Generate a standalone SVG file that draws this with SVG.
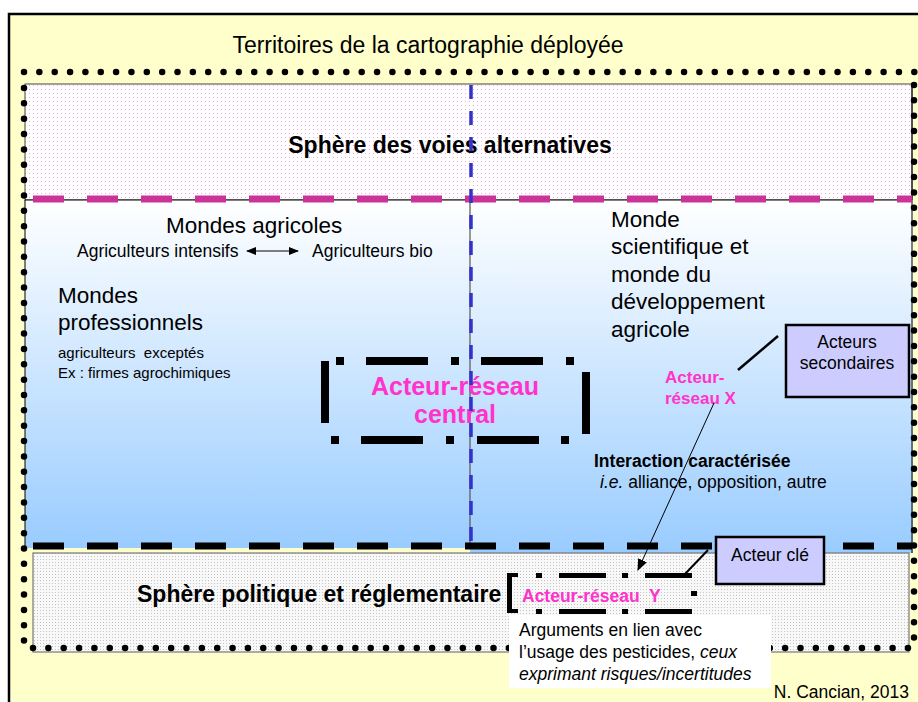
<svg xmlns="http://www.w3.org/2000/svg" width="918" height="702" viewBox="0 0 918 702">
<defs>
<style>
text{font-family:"Liberation Sans",Arial,sans-serif;fill:#000}
.t22{font-size:22.5px}
.b22{font-size:23px;font-weight:bold}
.t17{font-size:17.5px}
.t15{font-size:15px}
.pk{fill:#FF33CC;font-weight:bold}
.dots{fill:none;stroke:#000;stroke-width:6.5;stroke-linecap:round;stroke-dasharray:0 15.35}
.bk{fill:#000}
.box{fill:#CCCCFF;stroke:#000;stroke-width:2.5}
</style>
<pattern id="pinkdots" width="4" height="4" patternUnits="userSpaceOnUse">
<rect width="4" height="4" fill="#FFFFFF"/>
<rect x="1" y="1" width="1" height="1" fill="#F5A6EE"/>
</pattern>
<pattern id="graydots" width="3" height="3" patternUnits="userSpaceOnUse">
<rect width="3" height="3" fill="#F8F8F8"/>
<rect x="1" y="1" width="1" height="1" fill="#C4C4C4"/>
</pattern>
<linearGradient id="blue" x1="0" y1="0" x2="0" y2="1">
<stop offset="0" stop-color="#FFFFFF"/>
<stop offset="1" stop-color="#99CCFF"/>
</linearGradient>
<marker id="ah" viewBox="0 0 10 10" refX="9" refY="5" markerWidth="10" markerHeight="10" markerUnits="userSpaceOnUse" orient="auto-start-reverse">
<path d="M0,1 L10,5 L0,9 Z" fill="#000"/>
</marker>
<marker id="ah2" viewBox="0 0 10 10" refX="9" refY="5" markerWidth="12" markerHeight="12" markerUnits="userSpaceOnUse" orient="auto">
<path d="M0,1 L10,5 L0,9 Z" fill="#000"/>
</marker>
</defs>

<g id="frame">
<rect x="9" y="14" width="1000" height="800" fill="#FFFFCC" stroke="#000" stroke-width="2.5"/>
<text x="428" y="53" text-anchor="middle" font-size="23">Territoires de la cartographie déployée</text>
</g>

<g id="sphere-alternatives">
<rect x="25" y="84" width="887" height="116" fill="url(#pinkdots)" stroke="#444" stroke-width="1"/>
<text class="b22" x="450" y="153" text-anchor="middle">Sphère des voies alternatives</text>
</g>

<g id="mondes">
<rect x="25" y="200" width="887" height="348" fill="url(#blue)"/>
<rect x="470" y="200" width="443" height="353" fill="url(#blue)"/>
<line x1="25" y1="200" x2="25" y2="548" stroke="#000" stroke-width="1"/>
<line x1="25" y1="200" x2="912" y2="200" stroke="#000" stroke-width="1"/>
<line x1="912" y1="84" x2="912" y2="553" stroke="#000" stroke-width="1"/>
<line x1="470" y1="200" x2="470" y2="548" stroke="#555" stroke-width="1.2"/>
</g>

<g id="sphere-politique">
<rect x="33" y="553" width="876" height="99" fill="url(#graydots)" stroke="#777" stroke-width="1.2"/>
<text class="b22" x="137" y="602">Sphère politique et réglementaire</text>
</g>

<g id="dotted-borders">
<line class="dots" x1="24" y1="72" x2="918" y2="72"/>
<line class="dots" x1="24" y1="88" x2="24" y2="642"/>
<line class="dots" x1="33" y1="648" x2="909" y2="648"/>
<line class="dots" x1="914" y1="85" x2="914" y2="652"/>
</g>

<g id="dividers">
<line x1="33" y1="199" x2="912" y2="199" stroke="#CC3399" stroke-width="7" stroke-dasharray="31 23"/>
<line x1="33" y1="546" x2="912" y2="546" stroke="#000" stroke-width="7" stroke-dasharray="31 23"/>
</g>

<g id="monde-agricole">
<text class="t22" x="166" y="233">Mondes agricoles</text>
<text class="t17" x="77" y="257">Agriculteurs intensifs</text>
<text class="t17" x="312" y="257">Agriculteurs bio</text>
</g>

<g id="mondes-professionnels">
<text class="t22" x="58" y="303">Mondes</text>
<text class="t22" x="58" y="330">professionnels</text>
<text class="t15" x="58" y="358" xml:space="preserve">agriculteurs  exceptés</text>
<text class="t15" x="58" y="378">Ex : firmes agrochimiques</text>
</g>

<g id="monde-scientifique">
<text class="t22" x="611" y="227">Monde</text>
<text class="t22" x="611" y="254">scientifique et</text>
<text class="t22" x="611" y="282">monde du</text>
<text class="t22" x="611" y="309">développement</text>
<text class="t22" x="611" y="337">agricole</text>
</g>

<g id="acteur-central">
<rect class="bk" x="321" y="361" width="8" height="62"/>
<rect class="bk" x="336" y="357" width="8" height="8"/>
<rect class="bk" x="366" y="357" width="62" height="8"/>
<rect class="bk" x="451" y="357" width="8" height="8"/>
<rect class="bk" x="481" y="357" width="62" height="8"/>
<rect class="bk" x="566" y="357" width="8" height="8"/>
<rect class="bk" x="582" y="372" width="8" height="62"/>
<rect class="bk" x="331" y="436" width="8" height="8"/>
<rect class="bk" x="361" y="436" width="62" height="8"/>
<rect class="bk" x="446" y="436" width="8" height="8"/>
<rect class="bk" x="477" y="436" width="62" height="8"/>
<rect class="bk" x="561" y="436" width="8" height="8"/>
<text class="pk" x="455" y="395" text-anchor="middle" font-size="25">Acteur-réseau</text>
<text class="pk" x="455" y="423" text-anchor="middle" font-size="25">central</text>
</g>

<g id="vertical-divider">
<line x1="471" y1="85" x2="471" y2="548" stroke="#3333CC" stroke-width="3.5" stroke-dasharray="14 12"/>
</g>

<g id="acteur-x">
<text class="pk" x="665" y="383" font-size="17">Acteur-</text>
<text class="pk" x="665" y="404" font-size="17">réseau X</text>
</g>

<g id="acteurs-secondaires">
<rect class="box" x="786" y="325" width="123" height="72"/>
<text class="t17" x="847" y="348" text-anchor="middle">Acteurs</text>
<text class="t17" x="847" y="369" text-anchor="middle">secondaires</text>
</g>

<g id="interaction">
<text style="font-size:17.5px;font-weight:bold" x="594" y="467">Interaction caractérisée</text>
<text class="t17" x="600" y="488"><tspan font-style="italic">i.e.</tspan> alliance, opposition, autre</text>
</g>

<g id="acteur-y">
<rect class="bk" x="507" y="573" width="5" height="40"/>
<rect class="bk" x="507" y="573" width="11" height="4"/>
<rect class="bk" x="507" y="609" width="11" height="4"/>
<rect class="bk" x="536" y="573" width="6" height="5"/>
<rect class="bk" x="559" y="573" width="47" height="5"/>
<rect class="bk" x="622" y="573" width="6" height="5"/>
<rect class="bk" x="645" y="573" width="47" height="5"/>
<rect class="bk" x="691" y="591" width="6" height="5"/>
<rect class="bk" x="536" y="609" width="6" height="5"/>
<rect class="bk" x="559" y="609" width="47" height="5"/>
<rect class="bk" x="622" y="609" width="6" height="5"/>
<rect class="bk" x="645" y="609" width="47" height="5"/>
<text class="pk" x="522" y="602" font-size="17.5" xml:space="preserve">Acteur-réseau  Y</text>
</g>

<g id="acteur-cle">
<rect class="box" x="716" y="537" width="108" height="47"/>
<text class="t17" x="770" y="561" text-anchor="middle">Acteur clé</text>
</g>

<g id="arguments">
<rect x="509" y="615" width="262" height="73" fill="#FFFFFF"/>
<text class="t17" x="519" y="636">Arguments en lien avec</text>
<text class="t17" x="519" y="658">l’usage des pesticides, <tspan font-style="italic">ceux</tspan></text>
<text class="t17" x="519" y="680" font-style="italic">exprimant risques/incertitudes</text>
</g>

<g id="credit">
<text class="t17" x="909" y="698" text-anchor="end">N. Cancian, 2013</text>
</g>

<g id="connectors">
<line x1="247" y1="251" x2="298" y2="251" stroke="#555" stroke-width="1.5" marker-start="url(#ah)" marker-end="url(#ah)"/>
<line x1="714" y1="403" x2="638" y2="570" stroke="#000" stroke-width="1" marker-end="url(#ah2)"/>
<line x1="738" y1="370" x2="778" y2="336" stroke="#000" stroke-width="2.5"/>
<line x1="685" y1="574" x2="708" y2="550" stroke="#000" stroke-width="2"/>
</g>
</svg>
